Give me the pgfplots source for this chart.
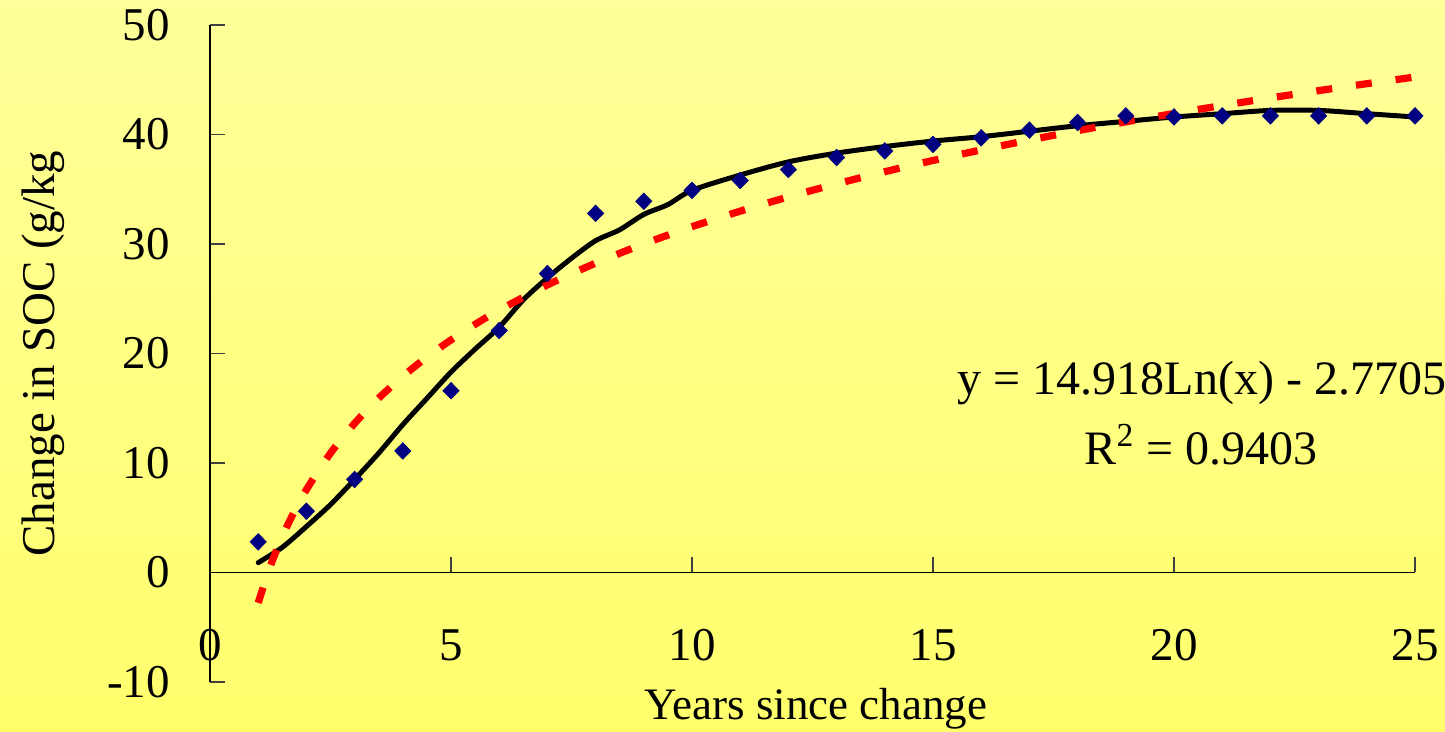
\documentclass[border=0pt]{standalone}
\usepackage{pgfplots}
\pgfplotsset{compat=1.18}
\usepackage{fontspec}
\setmainfont{Liberation Serif}
\definecolor{bgtop}{RGB}{255,255,155}
\definecolor{bgbot}{RGB}{255,255,108}
\definecolor{navy}{RGB}{0,0,128}
\begin{document}
\begin{tikzpicture}
\useasboundingbox (0,0) rectangle (722.5pt,366pt);
\shade[top color=bgtop, bottom color=bgbot] (0,0) rectangle (722.5pt,366pt);
\clip (0,0) rectangle (722.5pt,366pt);
\begin{axis}[
  at={(105pt,25pt)}, anchor=south west,
  scale only axis, width=602.5pt, height=328.5pt,
  xmin=0, xmax=25, ymin=-10, ymax=50,
  axis x line=middle, axis y line=left,
  axis line style={black, line width=0.9pt, -},
  xtick={0,5,...,25}, ytick={-10,0,...,50},
  hide obscured x ticks=false,
  tick align=inside, major tick length=7.5pt,
  tick style={black!75, line width=0.8pt},
  /pgf/number format/assume math mode=true,
  tick label style={font=\fontsize{23.5}{27}\selectfont},
  xticklabel style={yshift=-25pt},
  yticklabel style={xshift=-16.5pt},
  clip=false,
]
\addplot[only marks, mark=diamond*, mark size=4.1pt, mark options={navy, xscale=1.3}, color=navy]
coordinates {(1,2.8) (2,5.6) (3,8.5) (4,11.1) (5,16.6) (6,22.1) (7,27.3) (8,32.8) (9,33.9) (10,34.9) (11,35.8) (12,36.8) (13,37.9) (14,38.5) (15,39.1) (16,39.7) (17,40.4) (18,41.1) (19,41.7) (20,41.6) (21,41.7) (22,41.7) (23,41.7) (24,41.7) (25,41.7)};
\addplot[black, line width=2.5pt, smooth, tension=0.5, line cap=round, no marks]
coordinates {(1,0.9) (1.5,2.3) (2,4.2) (2.5,6.2) (3,8.5) (3.5,10.9) (4,13.5) (4.5,15.9) (5,18.3) (5.5,20.4) (6,22.4) (6.5,24.9) (7,26.9) (7.5,28.7) (8,30.3) (8.5,31.3) (9,32.7) (9.5,33.6) (10,34.9) (11,36.3) (12,37.5) (13,38.3) (14,38.9) (15,39.4) (16,39.8) (17,40.3) (18,40.8) (19,41.2) (20,41.6) (21,41.9) (22,42.2) (23,42.2) (24,41.9) (25,41.6)};
\addplot[red, line width=3.6pt, smooth, dash pattern=on 8pt off 12pt, no marks]
coordinates {(1,-2.771) (1.25,0.558) (1.5,3.278) (1.75,5.578) (2,7.570) (2.5,10.899) (3,13.619) (3.5,15.918) (4,17.910) (4.5,19.668) (5,21.240) (5.5,22.661) (6,23.960) (7,26.259) (8,28.250) (9,30.009) (10,31.579) (11,33.001) (12,34.300) (13,35.493) (14,36.600) (15,37.629) (16,38.591) (17,39.495) (18,40.349) (19,41.155) (20,41.920) (21,42.648) (22,43.342) (23,44.006) (24,44.641) (25,45.250)};
\end{axis}
\node[anchor=base, inner sep=0, font=\fontsize{24}{28}\selectfont] at (601pt,168.5pt) {y = 14.918Ln(x) - 2.7705};
\node[anchor=base, inner sep=0, font=\fontsize{24}{28}\selectfont] at (600.5pt,133.5pt) {R\textsuperscript{2} = 0.9403};
\node[anchor=base, inner sep=0, font=\fontsize{22.5}{26}\selectfont] at (408pt,6pt) {Years since change};
\node[anchor=west, rotate=90, inner sep=0, font=\fontsize{23.5}{27}\selectfont] at (21.5pt,87.5pt) {Change in SOC (g/kg};
\end{tikzpicture}
\end{document}
